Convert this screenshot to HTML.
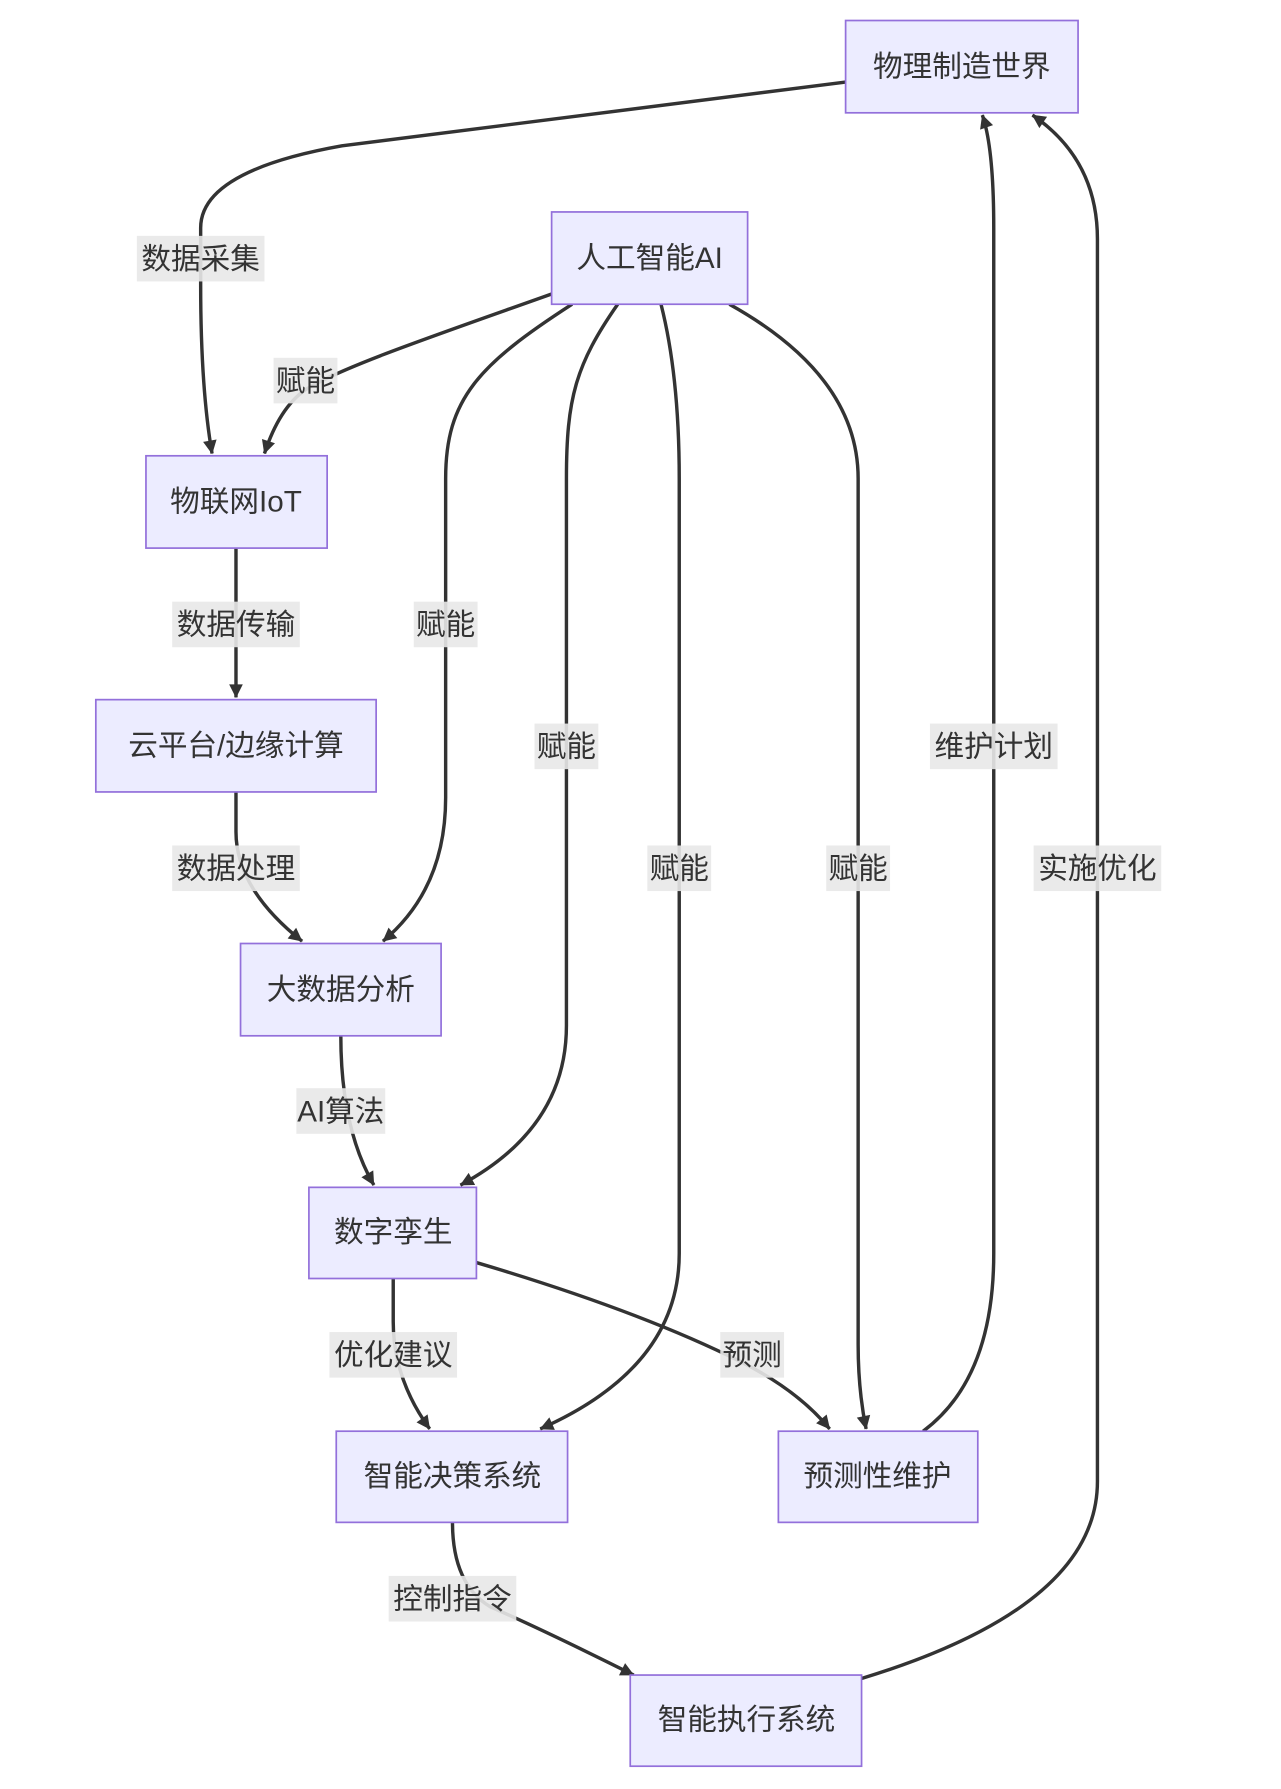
<!DOCTYPE html>
<html><head><meta charset="utf-8"><style>
html,body{margin:0;padding:0;background:#fff;}
svg{display:block;}
text{font-family:"Liberation Sans","Noto Sans CJK SC",sans-serif;fill:#333;font-size:26px;}
.n{fill:#ECECFF;stroke:#9370DB;stroke-width:1.5;}
.e{fill:none;stroke:#333;stroke-width:3;marker-end:url(#a);}
.lb{fill:#e8e8e8;opacity:0.9;}
</style></head><body>
<svg width="1281" height="1789" viewBox="0 0 1124 1570" xmlns="http://www.w3.org/2000/svg">
<defs><marker id="a" viewBox="0 0 10 10" refX="9" refY="5" markerWidth="6" markerHeight="6" markerUnits="userSpaceOnUse" orient="auto" style="overflow:visible"><path d="M0,0 L10,5 L0,10 z" fill="#333" transform="scale(2) translate(-5,-2.5)"/></marker></defs>
<g>
<path class="e" d="M742,72 L300,128 Q176,150 176,200 L176,250 Q176,340 186,398"/>
<path class="e" d="M484,258 C380,295 300,322 268,342 Q245,358 232,398"/>
<path class="e" d="M502,267 C420,320 391,350 391,420 L391,700 Q391,780 336,826"/>
<path class="e" d="M542,267 C505,320 497,350 497,420 L497,900 Q497,990 404,1040"/>
<path class="e" d="M580,267 Q596,330 596,420 L596,1100 Q596,1200 474,1254"/>
<path class="e" d="M640,267 Q753,330 753,420 L753,1180 Q753,1220 760,1254"/>
<path class="e" d="M207,481 L207,612"/>
<path class="e" d="M207,695 L207,730 Q207,780 265,826"/>
<path class="e" d="M299,909 Q299,990 328,1040"/>
<path class="e" d="M345,1122 L345,1160 Q345,1210 377,1254"/>
<path class="e" d="M418,1108 Q560,1150 650,1195 Q700,1220 728,1254"/>
<path class="e" d="M810,1256 Q872,1210 872,1100 L872,200 Q872,130 862,101"/>
<path class="e" d="M397,1336 Q397,1390 430,1410 Q480,1432 556,1470"/>
<path class="e" d="M756,1473 Q963,1410 963,1300 L963,210 Q963,140 906,101"/>
</g>
<g text-anchor="middle">
<rect class="lb" x="120" y="207" width="112" height="40"/><text x="176" y="236">数据采集</text>
<rect class="lb" x="240" y="314" width="56" height="40"/><text x="268" y="343">赋能</text>
<rect class="lb" x="363" y="528" width="56" height="40"/><text x="391" y="557">赋能</text>
<rect class="lb" x="469" y="635" width="56" height="40"/><text x="497" y="664">赋能</text>
<rect class="lb" x="568" y="742" width="56" height="40"/><text x="596" y="771">赋能</text>
<rect class="lb" x="725" y="742" width="56" height="40"/><text x="753" y="771">赋能</text>
<rect class="lb" x="151" y="528" width="112" height="40"/><text x="207" y="557">数据传输</text>
<rect class="lb" x="151" y="742" width="112" height="40"/><text x="207" y="771">数据处理</text>
<rect class="lb" x="260" y="955" width="78" height="40"/><text x="299" y="984">AI算法</text>
<rect class="lb" x="289" y="1169" width="112" height="40"/><text x="345" y="1198">优化建议</text>
<rect class="lb" x="632" y="1169" width="56" height="40"/><text x="660" y="1198">预测</text>
<rect class="lb" x="816" y="635" width="112" height="40"/><text x="872" y="664">维护计划</text>
<rect class="lb" x="341" y="1383" width="112" height="40"/><text x="397" y="1412">控制指令</text>
<rect class="lb" x="907" y="742" width="112" height="40"/><text x="963" y="771">实施优化</text>
</g>
<g text-anchor="middle">
<rect class="n" x="742" y="18" width="204" height="81"/><text x="844" y="67">物理制造世界</text>
<rect class="n" x="484" y="186" width="172" height="81"/><text x="570" y="235">人工智能AI</text>
<rect class="n" x="128" y="400" width="159" height="81"/><text x="207" y="449">物联网IoT</text>
<rect class="n" x="84" y="614" width="246" height="81"/><text x="207" y="663">云平台/边缘计算</text>
<rect class="n" x="211" y="828" width="176" height="81"/><text x="299" y="877">大数据分析</text>
<rect class="n" x="271" y="1042" width="147" height="80"/><text x="345" y="1090">数字孪生</text>
<rect class="n" x="295" y="1256" width="203" height="80"/><text x="397" y="1304">智能决策系统</text>
<rect class="n" x="683" y="1256" width="175" height="80"/><text x="770" y="1304">预测性维护</text>
<rect class="n" x="553" y="1470" width="203" height="80"/><text x="655" y="1518">智能执行系统</text>
</g>
</svg>
</body></html>
